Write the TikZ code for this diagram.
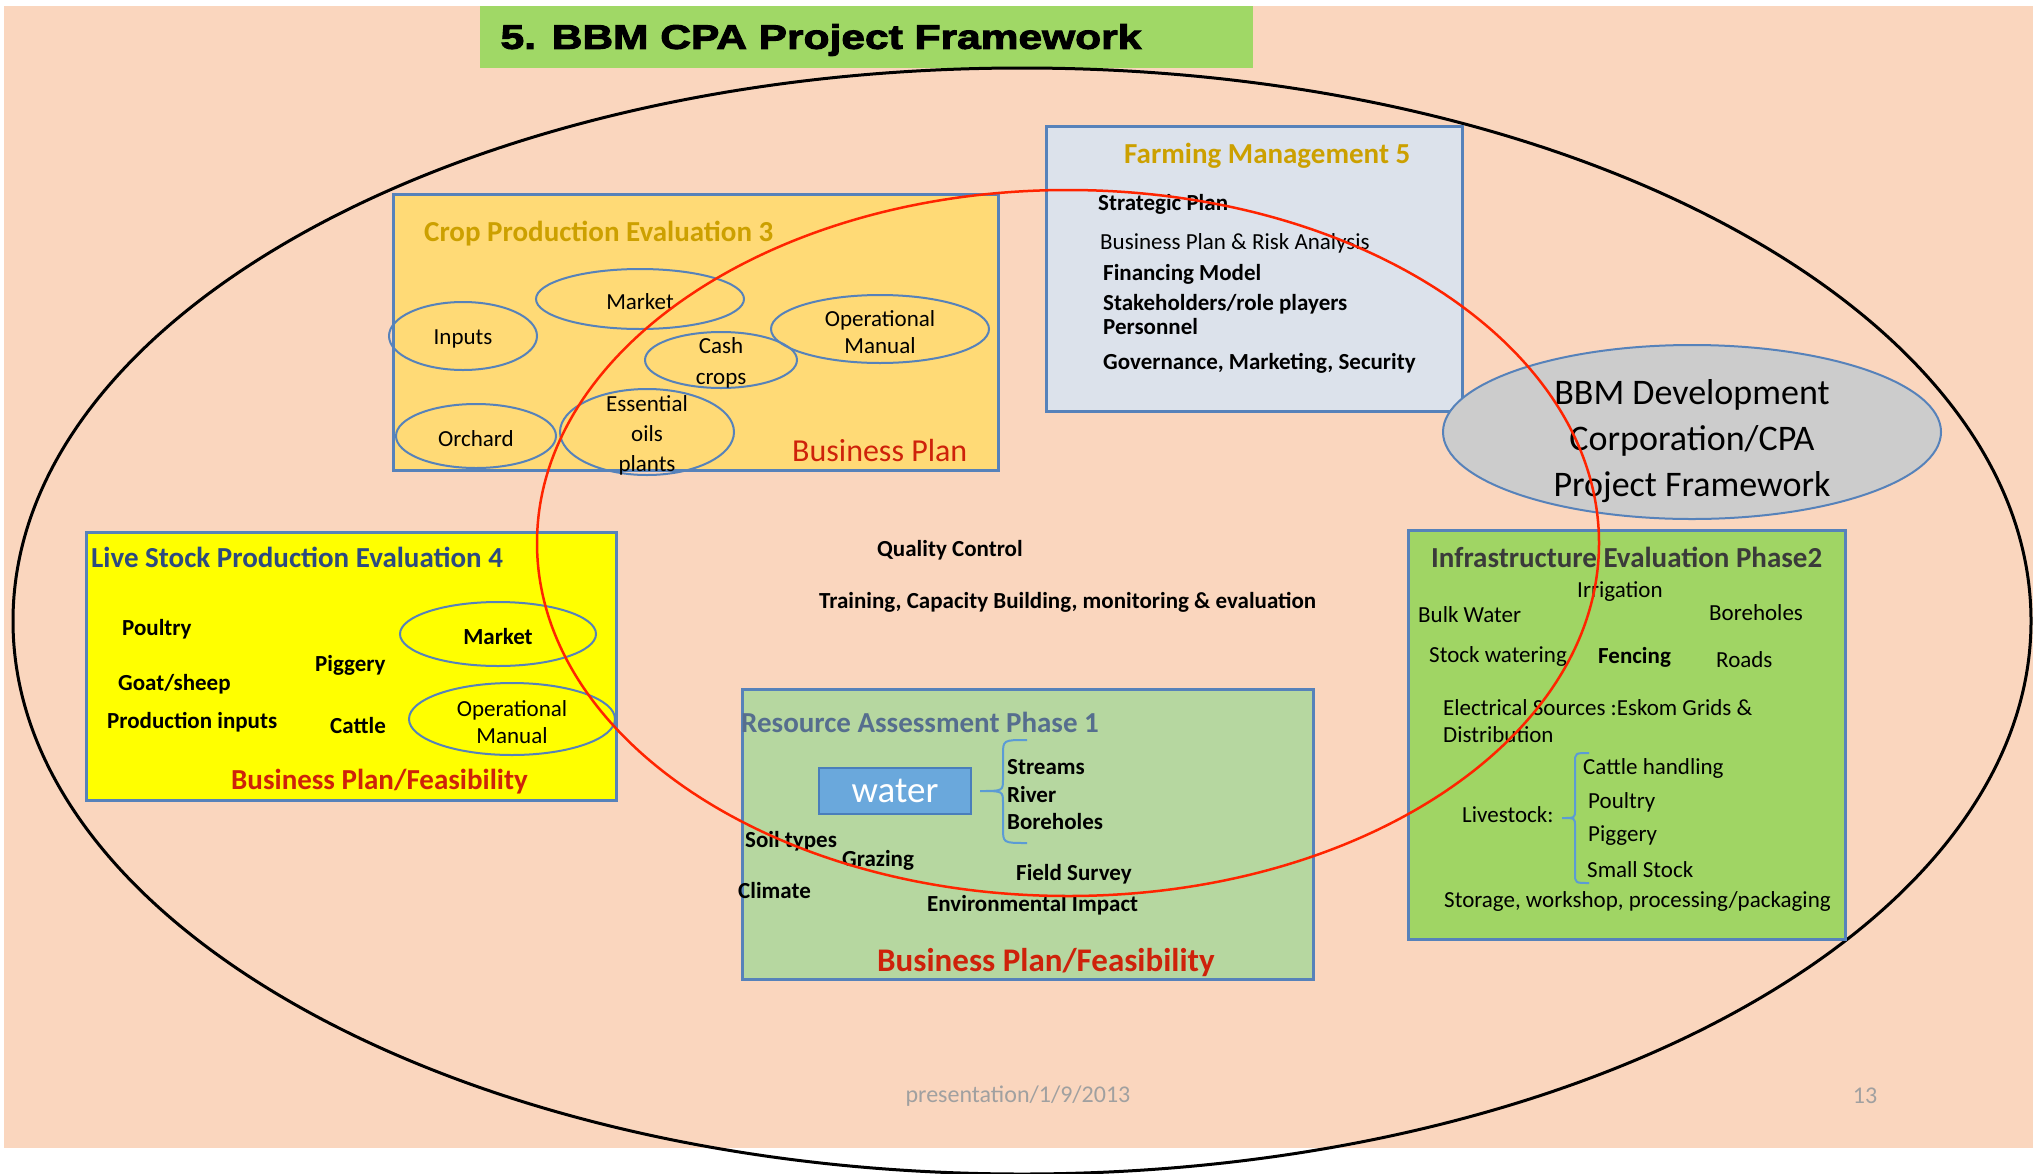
\documentclass[tikz,border=0pt]{standalone}
\usepackage{fontspec}
\setmainfont{Carlito}
\newfontfamily\headfont{Liberation Sans}[FakeStretch=1.25, BoldFeatures={FakeBold=3}]
\usetikzlibrary{shapes.geometric}

\definecolor{peach}{RGB}{250,214,190}
\definecolor{boxblue}{RGB}{86,130,186}
\definecolor{titlefill}{RGB}{160,216,102}
\definecolor{cropfill}{RGB}{255,218,118}
\definecolor{farmfill}{RGB}{220,226,235}
\definecolor{stockfill}{RGB}{255,255,0}
\definecolor{resfill}{RGB}{182,215,160}
\definecolor{infrafill}{RGB}{160,213,100}
\definecolor{ovalgray}{RGB}{204,204,204}
\definecolor{waterfill}{RGB}{106,168,220}
\definecolor{waterline}{RGB}{74,126,187}
\definecolor{gold}{RGB}{204,160,0}
\definecolor{planred}{RGB}{206,34,10}
\definecolor{stockblue}{RGB}{44,74,128}
\definecolor{resslate}{RGB}{86,110,142}
\definecolor{infragray}{RGB}{58,58,58}
\definecolor{ringred}{RGB}{255,36,0}
\definecolor{footgray}{RGB}{160,160,160}
\definecolor{braceblue}{RGB}{91,155,213}

\tikzset{
  panel/.style={draw=boxblue, line width=2.5pt, anchor=north west, inner sep=0pt},
  oval/.style={ellipse, draw=boxblue, line width=2pt, inner sep=0pt},
  ovaltext/.style={align=center, inner sep=0pt, yshift=-3pt, font=\fontsize{23}{30}\selectfont},
  boxhead/.style={anchor=base west, inner sep=0pt, font=\fontsize{29}{35}\selectfont\bfseries},
  entry/.style={anchor=base west, inner sep=0pt, font=\fontsize{23}{28}\selectfont},
  bentry/.style={entry, font=\fontsize{23}{28}\selectfont\bfseries},
  redplan/.style={anchor=base west, inner sep=0pt, text=planred},
  curly/.style={draw=braceblue, line width=2pt},
}

\begin{document}
\begin{tikzpicture}[x=1pt, y=-1pt]

\useasboundingbox (0,0) rectangle (2044,1173);
\fill[peach] (4,6) rectangle (2033,1148);

% Title
\node[fill=titlefill, anchor=north west, minimum width=773, minimum height=62, inner sep=0pt] (title) at (480,6) {};
\node[inner sep=0pt, font=\headfont\bfseries\fontsize{34}{40}\selectfont] (titletxt) at (821,40) {5. BBM CPA Project Framework};

% Outer ring
\draw[line width=3pt] (1022,621) ellipse [x radius=1009, y radius=553];

% Panels
\node[panel, fill=cropfill, minimum width=605, minimum height=276] (crop) at (392,193) {};
\node[panel, fill=farmfill, minimum width=416, minimum height=285] (farm) at (1045,125) {};
\node[panel, fill=stockfill, minimum width=530, minimum height=268] (stock) at (85,531) {};
\node[panel, fill=resfill, minimum width=571, minimum height=290] (res) at (741,688) {};
\node[panel, fill=infrafill, minimum width=437, minimum height=409] (infra) at (1407,529) {};
\node[oval, fill=ovalgray, minimum width=498, minimum height=174,
  label={[ovaltext, yshift=-6pt, font=\fontsize{36}{46}\selectfont]center:{BBM Development\\Corporation/CPA\\Project Framework}}] (bbm) at (1692,432) {};

% Crop production
\node[boxhead, text=gold] (croph) at (424,241) {Crop Production Evaluation 3};
\node[oval, minimum width=208, minimum height=60, label={[ovaltext]center:Market}] (cmarket) at (640,299) {};
\node[oval, minimum width=148, minimum height=68, label={[ovaltext]center:Inputs}] (cinputs) at (463,336) {};
\node[oval, minimum width=218, minimum height=68, label={[ovaltext, font=\fontsize{23}{27}\selectfont]center:{Operational\\Manual}}] (cmanual) at (880,329) {};
\node[oval, minimum width=152, minimum height=56, label={[ovaltext, font=\fontsize{23}{31}\selectfont]center:{Cash\\crops}}] (ccash) at (721,360) {};
\node[oval, minimum width=160, minimum height=64, label={[ovaltext]center:Orchard}] (corchard) at (476,436) {};
\node[oval, minimum width=174, minimum height=86, label={[ovaltext]center:{Essential\\oils\\plants}}] (coils) at (647,432) {};
\node[redplan, font=\fontsize{32}{38}\selectfont] (cplan) at (792,461) {Business Plan};

% Farming management
\node[boxhead, text=gold] (farmh) at (1124,163) {Farming Management 5};
\node[bentry] (fstrat) at (1098,210) {Strategic Plan};
\node[entry] (frisk) at (1100,249) {Business Plan \& Risk Analysis};
\node[bentry] (ffin) at (1103,280) {Financing Model};
\node[bentry] (fstake) at (1103,310) {Stakeholders/role players};
\node[bentry] (fpers) at (1103,334) {Personnel};
\node[bentry] (fgov) at (1103,369) {Governance, Marketing, Security};

% Live stock
\node[boxhead, text=stockblue] (stockh) at (91,567) {Live Stock Production Evaluation 4};
\node[bentry] (spoultry) at (122,635) {Poultry};
\node[bentry] (sgoat) at (118,690) {Goat/sheep};
\node[bentry] (sinputs) at (107,728) {Production inputs};
\node[bentry] (spiggery) at (315,671) {Piggery};
\node[bentry] (scattle) at (330,733) {Cattle};
\node[oval, minimum width=196, minimum height=64, label={[ovaltext, font=\fontsize{23}{28}\selectfont\bfseries]center:Market}] (smarket) at (498,634) {};
\node[oval, minimum width=206, minimum height=72, label={[ovaltext, font=\fontsize{23}{27}\selectfont]center:{Operational\\Manual}}] (smanual) at (512,719) {};
\node[redplan, font=\fontsize{29}{35}\selectfont\bfseries] (splan) at (231,789) {Business Plan/Feasibility};

% Centre
\node[bentry] (quality) at (877,556) {Quality Control};
\node[bentry] (training) at (819,608) {Training, Capacity Building, monitoring \& evaluation};

% Resource assessment
\node[boxhead, text=resslate] (resh) at (741,732) {Resource Assessment Phase 1};
\node[fill=waterfill, draw=waterline, line width=2pt, minimum width=152, minimum height=46, inner sep=0pt,
  text=white, font=\fontsize{37}{40}\selectfont] (water) at (895,791) {water};
\draw[curly] (1027,740) .. controls (1003,740) .. (1003,755) -- (1003,779)
  .. controls (1003,791) .. (980,791) .. controls (1003,791) .. (1003,803)
  -- (1003,828) .. controls (1003,843) .. (1027,843);
\node[bentry] (rstreams) at (1007,774) {Streams};
\node[bentry] (rriver) at (1007,802) {River};
\node[bentry] (rbore) at (1007,829) {Boreholes};
\node[bentry] (rsoil) at (745,847) {Soil types};
\node[bentry] (rgraze) at (842,866) {Grazing};
\node[bentry] (rclimate) at (738,898) {Climate};
\node[bentry] (rfield) at (1016,880) {Field Survey};
\node[bentry] (renv) at (927,911) {Environmental Impact};
\node[redplan, font=\fontsize{33}{38}\selectfont\bfseries] (rplan) at (877,971) {Business Plan/Feasibility};

% Infrastructure
\node[boxhead, text=infragray] (infrah) at (1431,567) {Infrastructure Evaluation Phase2};
\node[entry] (iirr) at (1577,597) {Irrigation};
\node[entry] (ibulk) at (1418,622) {Bulk Water};
\node[entry] (ibore) at (1709,620) {Boreholes};
\node[entry] (istock) at (1429,662) {Stock watering};
\node[bentry] (ifence) at (1598,663) {Fencing};
\node[entry] (iroads) at (1716,667) {Roads};
\node[entry] (ielec) at (1443,715) {Electrical Sources :Eskom Grids \&};
\node[entry] (idist) at (1443,742) {Distribution};
\node[entry] (ilive) at (1462,822) {Livestock:};
\draw[curly] (1589,753) .. controls (1575,753) .. (1575,763) -- (1575,810)
  .. controls (1575,818) .. (1562,818) .. controls (1575,818) .. (1575,826)
  -- (1575,873) .. controls (1575,883) .. (1589,883);
\node[entry] (icattle) at (1583,774) {Cattle handling};
\node[entry] (ipoultry) at (1588,808) {Poultry};
\node[entry] (ipiggery) at (1588,841) {Piggery};
\node[entry] (ismall) at (1587,877) {Small Stock};
\node[entry] (istore) at (1444,907) {Storage, workshop, processing/packaging};

% Inner ring
\draw[ringred, line width=2.5pt] (1068,543) ellipse [x radius=531, y radius=353];

% Footer
\node[text=footgray, font=\fontsize{24}{28}\selectfont] (date) at (1018,1096) {presentation/1/9/2013};
\node[text=footgray, font=\fontsize{24}{28}\selectfont] (page) at (1865,1096) {13};

\end{tikzpicture}
\end{document}
